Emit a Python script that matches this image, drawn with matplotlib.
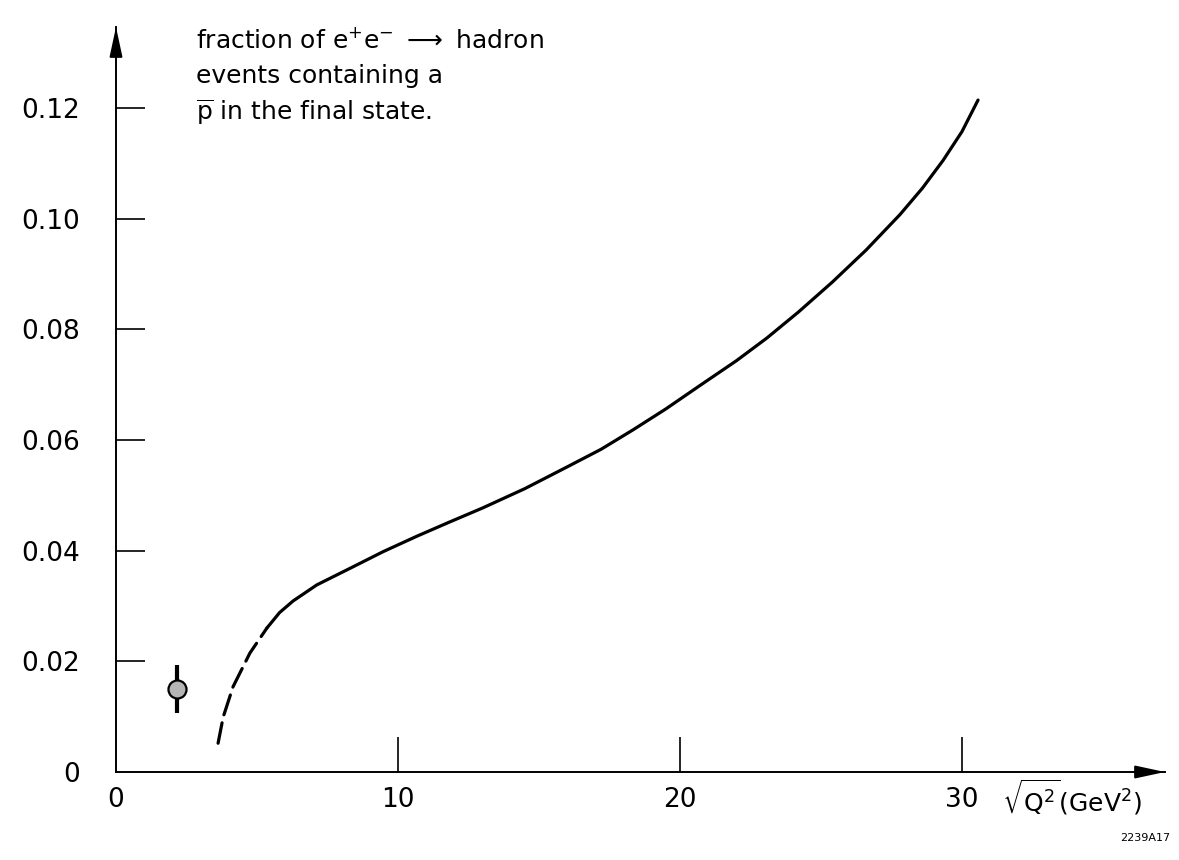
import matplotlib.pyplot as plt

plt.rcParams['font.family'] = ['DejaVu Sans']

# curve (x = sqrt(Q^2), y = fraction)
dash_x = [3.62, 3.8, 4.15, 4.75, 5.35]
dash_y = [0.0052, 0.0099, 0.0154, 0.0215, 0.0260]
solid_x = [5.35, 5.8, 6.28, 7.12, 8.3, 9.47, 10.67, 11.8, 13.0, 14.5, 15.99,
           17.2, 18.33, 19.5, 20.7, 22.0, 23.08, 24.2, 25.4, 26.6, 27.8,
           28.6, 29.33, 30.0, 30.57]
solid_y = [0.0260, 0.0288, 0.0309, 0.0338, 0.0368, 0.0398, 0.0426, 0.0451,
           0.0477, 0.0512, 0.0551, 0.0583, 0.0618, 0.0656, 0.0698, 0.0743,
           0.0784, 0.0831, 0.0885, 0.0943, 0.1007, 0.1055, 0.1105, 0.1157,
           0.1214]

# single measured point
pt_x = [2.15]
pt_y = [0.0150]
pt_err = [0.0044]

xticks = [0, 10, 20, 30]
xticklabels = ['0', '10', '20', '30']
yticks = [0, 0.02, 0.04, 0.06, 0.08, 0.10, 0.12]
yticklabels = ['0', '0.02', '0.04', '0.06', '0.08', '0.10', '0.12']

W, H = 1179, 860
fig = plt.figure(figsize=(W / 100, H / 100), dpi=100)
# x=0 at 116 px, y=0 at 772 px from top
ax = fig.add_axes([116 / W, 88 / H, 1049 / W, 745 / H])
ax.set_xlim(0, 37.2)
ax.set_ylim(0, 0.1346)

for s in ['top', 'right']:
    ax.spines[s].set_visible(False)
for s in ['left', 'bottom']:
    ax.spines[s].set_linewidth(1.4)

# arrow heads on the axes
arrow = dict(arrowstyle='-|>,head_length=1.3,head_width=0.28', color='black',
             lw=1.4, mutation_scale=14, shrinkA=0, shrinkB=0)
ax.annotate('', xy=(0, 1.0), xytext=(0, 0.96), xycoords='axes fraction',
            arrowprops=arrow)
ax.annotate('', xy=(1.0, 0), xytext=(0.97, 0), xycoords='axes fraction',
            arrowprops=arrow)

ax.plot(dash_x, dash_y, color='black', lw=2.3, dashes=(6.5, 2.6),
        solid_capstyle='round', dash_capstyle='round')
ax.plot(solid_x, solid_y, color='black', lw=2.3, solid_capstyle='round',
        solid_joinstyle='round')

ax.errorbar(pt_x, pt_y, yerr=pt_err, fmt='o', color='black', ecolor='black',
            elinewidth=3, capsize=0, markersize=13, markerfacecolor='#b5b5b5',
            markeredgecolor='black', markeredgewidth=1.6)

ax.set_xticks(xticks)
ax.set_xticklabels(xticklabels)
ax.set_yticks(yticks)
ax.set_yticklabels(yticklabels)
ax.tick_params(axis='y', direction='in', length=21, width=1.2, pad=26,
               labelsize=19)
ax.tick_params(axis='x', direction='in', length=25, width=1.2, pad=11,
               labelsize=19)
ax.xaxis.get_major_ticks()[0].tick1line.set_visible(False)
ax.yaxis.get_major_ticks()[0].tick1line.set_visible(False)

fig.text(1002 / W, 1 - 797 / H, r'$\sqrt{\mathrm{Q}^2}$(GeV$^2$)', fontsize=18,
         va='center', ha='left')
fig.text(1170 / W, 1 - 838 / H, '2239A17', fontsize=8, ha='right',
         va='center')

lines = [r'fraction of e$^{+}$e$^{-}$ $\longrightarrow$ hadron',
         'events containing a',
         r'$\overline{\mathrm{p}}$ in the final state.']
for i, t in enumerate(lines):
    fig.text(196 / W, 1 - (40 + 36 * i) / H, t, fontsize=18, va='center',
             ha='left')

fig.savefig('out.png', dpi=100)
